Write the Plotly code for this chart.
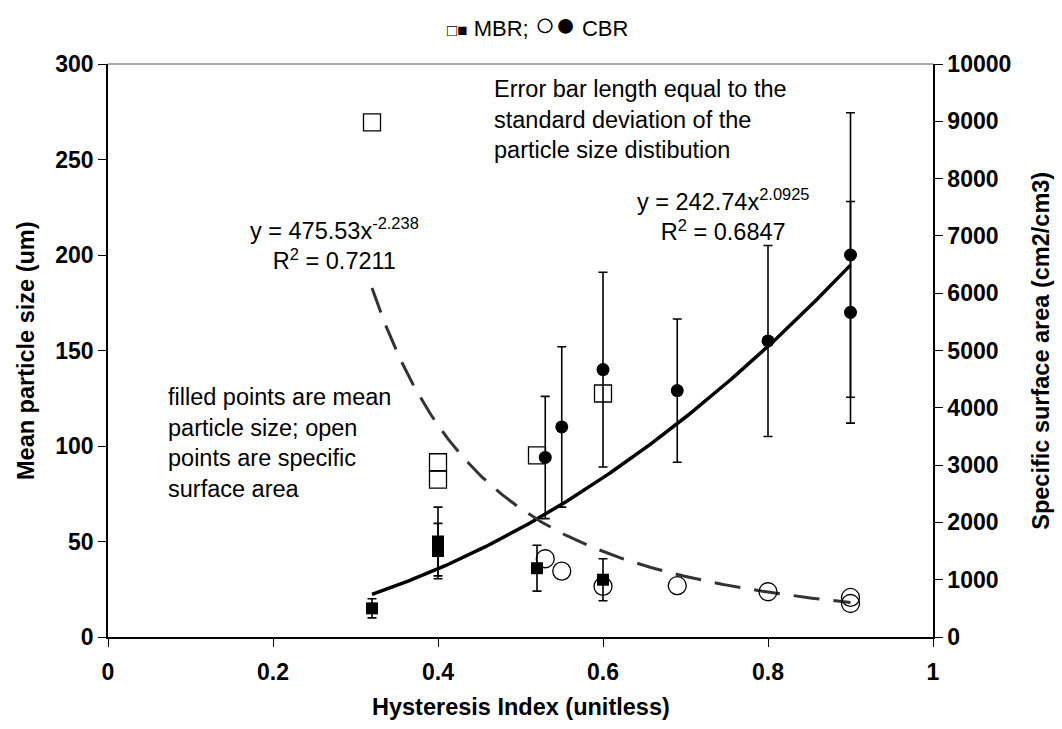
import numpy as np
import plotly.graph_objects as go

# MBR: hysteresis index, mean particle size (um) with SD, specific surface area (cm2/cm3)
mbr_hi = [0.32, 0.40, 0.40, 0.52, 0.60]
mbr_size = [15, 50, 45, 36, 30]
mbr_size_sd = [5, 18, 14.5, 12, 11]
mbr_ssa_hi = [0.32, 0.40, 0.40, 0.52, 0.60]
mbr_ssa = [8980, 3050, 2745, 3170, 4250]

# CBR
cbr_hi = [0.53, 0.55, 0.60, 0.69, 0.80, 0.90, 0.90]
cbr_size = [94, 110, 140, 129, 155, 200, 170]
cbr_size_sd = [32, 42, 51, 37.5, 50, 74.5, 58]
cbr_ssa = [1366, 1150, 883, 895, 790, 690, 585]

# Power-law trendlines  y = a * x^b
size_fit = (242.74, 2.0925)   # mean particle size, R2 = 0.6847
ssa_fit = (475.53, -2.238)    # specific surface area, R2 = 0.7211
fit_range = (0.32, 0.90)

FONT = "Arial, Liberation Sans, sans-serif"

fig = go.Figure()

xf = np.linspace(fit_range[0], fit_range[1], 200)
fig.add_trace(go.Scatter(x=xf, y=size_fit[0] * xf ** size_fit[1], mode="lines",
                         line=dict(color="black", width=3.5), yaxis="y", hoverinfo="skip"))
fig.add_trace(go.Scatter(x=xf, y=ssa_fit[0] * xf ** ssa_fit[1], mode="lines",
                         line=dict(color="#333333", width=3, dash="26px,14px"),
                         yaxis="y2", hoverinfo="skip"))

err_style = dict(type="data", color="black", thickness=1.6, width=4.5)

# open markers: specific surface area (right axis)
fig.add_trace(go.Scatter(x=mbr_ssa_hi, y=mbr_ssa, mode="markers", yaxis="y2",
                         marker=dict(symbol="square-open", size=17, color="black",
                                     line=dict(width=1.3, color="black"))))
fig.add_trace(go.Scatter(x=cbr_hi, y=cbr_ssa, mode="markers", yaxis="y2",
                         marker=dict(symbol="circle-open", size=18, color="black",
                                     line=dict(width=1.3, color="black"))))

# filled markers: mean particle size (left axis)
fig.add_trace(go.Scatter(x=mbr_hi, y=mbr_size, mode="markers", yaxis="y",
                         error_y=dict(array=mbr_size_sd, **err_style),
                         marker=dict(symbol="square", size=12, color="black")))
fig.add_trace(go.Scatter(x=cbr_hi, y=cbr_size, mode="markers", yaxis="y",
                         error_y=dict(array=cbr_size_sd, **err_style),
                         marker=dict(symbol="circle", size=13, color="black")))

tick_font = dict(family=FONT, size=23, color="black", weight="bold")
axis_common = dict(showgrid=False, zeroline=False, showline=True, linecolor="black",
                   linewidth=1.5, ticks="outside", ticklen=8, tickwidth=1.2,
                   tickcolor="black", tickfont=tick_font)

fig.update_layout(
    width=1062, height=729,
    margin=dict(l=108, r=129, t=64, b=92),
    paper_bgcolor="white", plot_bgcolor="white",
    showlegend=False,
    font=dict(family=FONT, size=23, color="black"),
    xaxis=dict(range=[0, 1], dtick=0.2, tick0=0, ticklabelstandoff=6, **axis_common),
    yaxis=dict(range=[0, 300], dtick=50, tick0=0, **axis_common),
    yaxis2=dict(range=[0, 10000], dtick=1000, tick0=0, overlaying="y", side="right",
                tickformat="d", **axis_common),
    yaxis3=dict(range=[0, 10000], dtick=1000, tick0=0, overlaying="y", side="right",
                showgrid=False, zeroline=False, showline=False, ticks="inside",
                ticklen=8, tickwidth=1.2, tickcolor="black", showticklabels=False),
)

# thin grey frame line along the top of the plotting area
fig.add_shape(type="line", xref="paper", yref="paper", x0=0, x1=1, y0=1, y1=1,
              line=dict(color="#8c8c8c", width=1.5))

txt = dict(family=FONT, size=23.5, color="black")
bold = dict(family=FONT, size=23.5, color="black", weight="bold")

annotations = [
    dict(x=0.465, y=271, xref="x", yref="y", xanchor="left", yanchor="middle", align="left",
         text="Error bar length equal to the<br>standard deviation of the<br>particle size distibution",
         showarrow=False, font=txt),
    dict(x=0.745, y=220.7, xref="x", yref="y", xanchor="center", yanchor="middle", align="center",
         text=f"y = {size_fit[0]}x<sup>{size_fit[1]}</sup><br>R<sup>2</sup> = 0.6847",
         showarrow=False, font=txt),
    dict(x=0.275, y=205.8, xref="x", yref="y", xanchor="center", yanchor="middle", align="center",
         text=f"y = {ssa_fit[0]}x<sup>{ssa_fit[1]}</sup><br>R<sup>2</sup> = 0.7211",
         showarrow=False, font=txt),
    dict(x=0.07, y=101.4, xref="x", yref="y", xanchor="left", yanchor="middle", align="left",
         text="filled points are mean<br>particle size; open<br>points are specific<br>surface area",
         showarrow=False, font=txt),
    # axis titles
    dict(x=0.5, y=-0.122, xref="paper", yref="paper", xanchor="center", yanchor="middle",
         text="Hysteresis Index (unitless)", showarrow=False, font=bold),
    dict(x=-0.1, y=0.5, xref="paper", yref="paper", xanchor="center", yanchor="middle",
         text="Mean particle size (um)", textangle=-90, showarrow=False, font=bold),
    dict(x=1.13, y=0.5, xref="paper", yref="paper", xanchor="center", yanchor="middle",
         text="Specific surface area (cm2/cm3)", textangle=-90, showarrow=False, font=bold),
    # series key
    dict(x=0.52, y=1.07, xref="paper", yref="paper", xanchor="center", yanchor="middle",
         text='<span style="font-size:17px">□■</span> MBR; '
              '<span style="font-size:34px">○●</span> CBR',
         showarrow=False, font=dict(family=FONT, size=22, color="black")),
]
fig.update_layout(annotations=annotations)

fig.write_html("out.html")
